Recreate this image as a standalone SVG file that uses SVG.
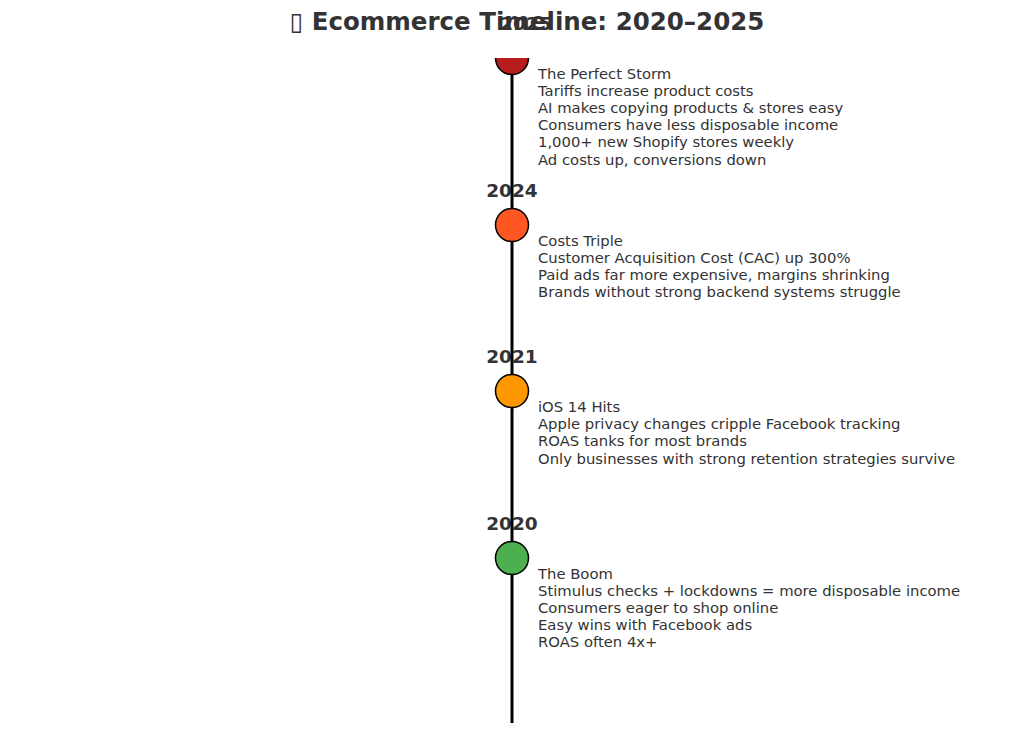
<svg xmlns="http://www.w3.org/2000/svg" width="1024" height="735" viewBox="0 0 1024 735">
<style>
.t{font-family:"DejaVu Sans",sans-serif;fill:#333}
.title{font-size:24.5px;font-weight:bold}
.yr{font-size:18.5px;font-weight:bold;text-anchor:middle}
.b{font-size:14.8px}
.dot{stroke:#000;stroke-width:1.5}
</style>
<defs><clipPath id="ax"><rect x="0" y="58" width="1024" height="680"/></clipPath></defs>
<rect width="1024" height="735" fill="#fff"/>
<g id="years">
<text class="t yr" x="526" y="30">2025</text>
<text class="t yr" x="512" y="197">2024</text>
<text class="t yr" x="512" y="363">2021</text>
<text class="t yr" x="512" y="530">2020</text>
</g>
<g id="connectors"><line x1="512" y1="58" x2="512" y2="723" stroke="#000" stroke-width="3"/></g>
<g id="n2025"><circle class="dot" cx="512" cy="58" r="16.5" fill="#b71c1c" clip-path="url(#ax)"/>
<text class="t b" x="538" y="79">The Perfect Storm</text>
<text class="t b" x="538" y="96">Tariffs increase product costs</text>
<text class="t b" x="538" y="113">AI makes copying products &amp; stores easy</text>
<text class="t b" x="538" y="130">Consumers have less disposable income</text>
<text class="t b" x="538" y="147">1,000+ new Shopify stores weekly</text>
<text class="t b" x="538" y="165">Ad costs up, conversions down</text></g>
<g id="n2024"><circle class="dot" cx="512" cy="225" r="16.5" fill="#ff5722"/>
<text class="t b" x="538" y="246">Costs Triple</text>
<text class="t b" x="538" y="263">Customer Acquisition Cost (CAC) up 300%</text>
<text class="t b" x="538" y="280">Paid ads far more expensive, margins shrinking</text>
<text class="t b" x="538" y="297">Brands without strong backend systems struggle</text></g>
<g id="n2021"><circle class="dot" cx="512" cy="391" r="16.5" fill="#ff9800"/>
<text class="t b" x="538" y="412">iOS 14 Hits</text>
<text class="t b" x="538" y="429">Apple privacy changes cripple Facebook tracking</text>
<text class="t b" x="538" y="446">ROAS tanks for most brands</text>
<text class="t b" x="538" y="464">Only businesses with strong retention strategies survive</text></g>
<g id="n2020"><circle class="dot" cx="512" cy="558" r="16.5" fill="#4caf50"/>
<text class="t b" x="538" y="579">The Boom</text>
<text class="t b" x="538" y="596">Stimulus checks + lockdowns = more disposable income</text>
<text class="t b" x="538" y="613">Consumers eager to shop online</text>
<text class="t b" x="538" y="630">Easy wins with Facebook ads</text>
<text class="t b" x="538" y="647">ROAS often 4x+</text></g>
<text class="t title" x="527" y="30" text-anchor="middle">▯ Ecommerce Timeline: 2020–2025</text>
</svg>
